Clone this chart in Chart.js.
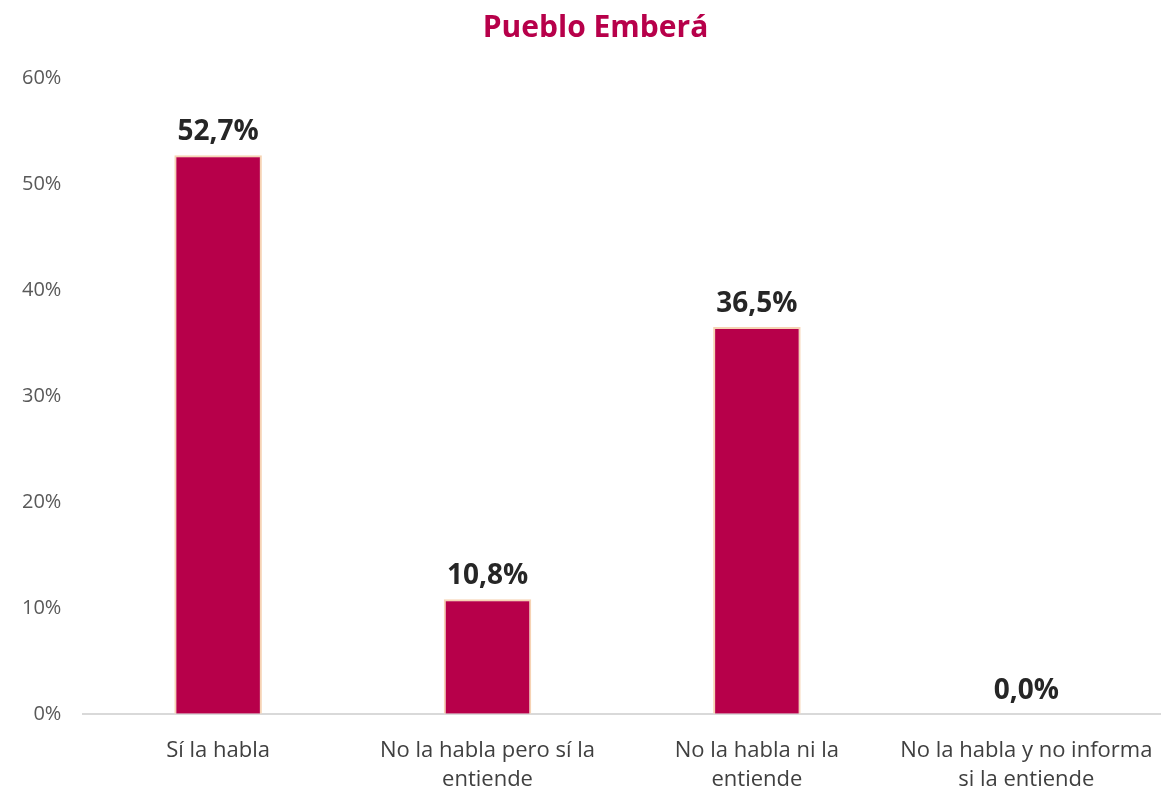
<!DOCTYPE html>
<html>
<head>
<meta charset="utf-8">
<script src="https://cdn.jsdelivr.net/npm/chart.js@4/dist/chart.umd.min.js"></script>
<style>
  html, body { margin: 0; padding: 0; background: #fff; }
  #wrap { width: 1161px; height: 791px; }
</style>
</head>
<body>
<div id="wrap"><canvas id="chart" width="1161" height="791"></canvas></div>
<script>
// Datos del gráfico
const categorias = [
  "Sí la habla",
  ["No la habla pero sí la", "entiende"],
  ["No la habla ni la", "entiende"],
  ["No la habla y no informa", "si la entiende"]
];
const porcentajes = [52.7, 10.8, 36.5, 0.0];
const ticksY = [0, 10, 20, 30, 40, 50, 60];

const FUENTE = "'Open Sans', 'Noto Sans', sans-serif";

// Etiquetas de valor encima de cada barra
const etiquetasBarras = {
  id: "etiquetasBarras",
  afterDatasetsDraw(chart) {
    const ctx = chart.ctx;
    const meta = chart.getDatasetMeta(0);
    ctx.save();
    ctx.font = "bold 28px " + FUENTE;
    ctx.fillStyle = "#262626";
    ctx.textAlign = "center";
    ctx.textBaseline = "bottom";
    meta.data.forEach((bar, i) => {
      const txt = porcentajes[i].toFixed(1).replace(".", ",") + "%";
      ctx.fillText(txt, bar.x, bar.y - 9);
    });
    ctx.restore();
  }
};

new Chart(document.getElementById("chart"), {
  type: "bar",
  data: {
    labels: categorias,
    datasets: [{
      data: porcentajes,
      backgroundColor: "#B7004A",
      borderColor: "#F6D3B4",
      borderWidth: 2,
      borderSkipped: "bottom",
      categoryPercentage: 1,
      barPercentage: 0.325
    }]
  },
  options: {
    responsive: false,
    animation: false,
    layout: { padding: { left: 0, right: -30, top: 0, bottom: -26 } },
    plugins: {
      legend: { display: false },
      tooltip: { enabled: false },
      title: {
        display: true,
        text: "Pueblo Emberá",
        color: "#B7004A",
        font: { family: FUENTE, size: 30, weight: "bold" },
        padding: { top: 10, bottom: 32 }
      }
    },
    scales: {
      x: {
        afterFit: s => { s.paddingRight = 0; },
        grid: { display: false, drawTicks: false },
        border: { display: true, color: "#D9D9D9", width: 2 },
        ticks: {
          color: "#404040",
          font: { family: FUENTE, size: 22, lineHeight: 1.3 },
          padding: 23,
          maxRotation: 0,
          autoSkip: false
        }
      },
      y: {
        min: 0,
        max: 60,
        afterBuildTicks: axis => { axis.ticks = ticksY.map(v => ({ value: v })); },
        grid: { display: false, drawTicks: false },
        border: { display: false },
        ticks: {
          color: "#595959",
          font: { family: FUENTE, size: 20 },
          padding: 22,
          callback: v => v + "%"
        }
      }
    }
  },
  plugins: [etiquetasBarras]
});
</script>
</body>
</html>
